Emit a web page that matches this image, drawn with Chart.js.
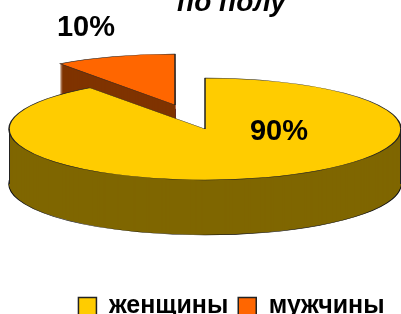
<!DOCTYPE html>
<html>
<head>
<meta charset="utf-8">
<script src="https://cdn.jsdelivr.net/npm/chart.js@4/dist/chart.umd.min.js"></script>
<style>
  html, body { margin: 0; padding: 0; background: #ffffff; overflow: hidden; }
  body { width: 401px; height: 314px; position: relative; }
  #wrap { position: absolute; left: 0; top: -27px; width: 401px; height: 356px; }
</style>
</head>
<body>
<div id="wrap"><canvas id="myChart" width="401" height="356"></canvas></div>
<script>
// data
const labels = ['женщины', 'мужчины'];
const values = [90, 10];
const colors = ['#ffcc00', '#ff6600'];
const titleText = 'по полу';

// 3d look (canvas pixels)
const CX = 205, CY = 156;      // centre of the top face
const TILT = 51 / 196;         // ellipse ry / rx
const DEPTH = 55;              // height of the side wall
const EXPLODE = [0, 97];       // pull-out of each slice along its middle angle
const LABEL_AT = [[279, 159], [86, 55]];

function drawPiece(ctx, arc, border) {
    if (border) {
        arc.draw(ctx);
        return;
    }
    const flat = Object.create(arc);
    flat.options = Object.assign({}, arc.options, { borderWidth: 0 });
    flat.draw(ctx);
}

const pie3d = {
    id: 'pie3d',
    beforeDatasetsDraw(chart) {
        const ctx = chart.ctx;
        const arcs = chart.getDatasetMeta(0).data;
        const ox = arcs[0].x, oy = arcs[0].y;

        // the pulled out slice sits behind, so draw it first
        const order = arcs.map((a, i) => i).sort((a, b) => EXPLODE[b] - EXPLODE[a]);

        order.forEach(i => {
            const arc = arcs[i];
            const mid = (arc.startAngle + arc.endAngle) / 2;
            for (let d = DEPTH; d >= 0; d--) {
                ctx.save();
                ctx.translate(CX, CY + d);
                ctx.scale(1, TILT);
                ctx.translate(-ox, -oy);
                ctx.translate(Math.cos(mid) * EXPLODE[i], Math.sin(mid) * EXPLODE[i]);
                if (d > 0) ctx.filter = 'brightness(50%)';
                drawPiece(ctx, arc, d === DEPTH || d === 0);
                ctx.restore();
            }
            // side edges of the wall
            if (EXPLODE[i] === 0) {
                ctx.save();
                ctx.strokeStyle = '#222222';
                ctx.lineWidth = 1;
                ctx.beginPath();
                ctx.moveTo(CX - arc.outerRadius + 0.5, CY);
                ctx.lineTo(CX - arc.outerRadius + 0.5, CY + DEPTH);
                ctx.moveTo(CX + arc.outerRadius - 0.5, CY);
                ctx.lineTo(CX + arc.outerRadius - 0.5, CY + DEPTH);
                ctx.stroke();
                ctx.restore();
            }
        });
        return false;
    },
    afterDraw(chart) {
        const ctx = chart.ctx;
        const data = chart.data.datasets[0].data;
        const total = data.reduce((s, v) => s + v, 0);
        ctx.save();
        ctx.fillStyle = '#000000';
        ctx.font = 'bold 29px Arial, "Liberation Sans", sans-serif';
        ctx.textAlign = 'center';
        ctx.textBaseline = 'middle';
        data.forEach((v, i) => {
            ctx.fillText(Math.round(v / total * 100) + '%', LABEL_AT[i][0], LABEL_AT[i][1]);
        });
        ctx.restore();
    }
};

var ctx = document.getElementById('myChart').getContext('2d');
var chart = new Chart(ctx, {
    type: 'pie',
    data: {
        labels: labels,
        datasets: [{
            data: values,
            backgroundColor: colors,
            borderColor: '#222222',
            borderWidth: 1.5
        }]
    },
    options: {
        responsive: false,
        animation: false,
        events: [],
        radius: 196,
        layout: { padding: { left: 62 } },
        plugins: {
            tooltip: { enabled: false },
            title: {
                display: true,
                text: titleText,
                color: '#000000',
                font: { family: 'Arial, "Liberation Sans", sans-serif', size: 28, style: 'italic', weight: 'bold' },
                padding: { top: 13, bottom: 10 }
            },
            legend: {
                position: 'bottom',
                labels: {
                    color: '#000000',
                    boxWidth: 18,
                    boxHeight: 18,
                    padding: 10,
                    font: { family: 'Arial, "Liberation Sans", sans-serif', size: 25, weight: 'bold' }
                }
            }
        }
    },
    plugins: [pie3d]
});
</script>
</body>
</html>
